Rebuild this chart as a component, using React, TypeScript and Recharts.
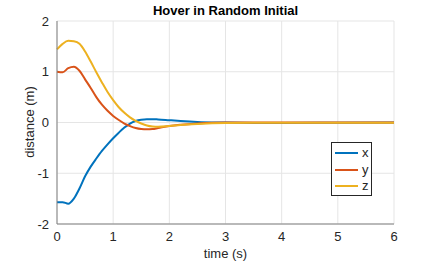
import { LineChart, Line, XAxis, YAxis, CartesianGrid } from 'recharts';

// sample times (s)
const TIME = [0, 0.1, 0.2, 0.3, 0.4, 0.5, 0.6, 0.7, 0.8, 0.9, 1.0, 1.1, 1.2, 1.3, 1.4, 1.5, 1.6, 1.7, 1.8, 2.0, 2.2, 2.5, 3.0, 3.5, 4.0, 5.0, 6.0];
const X_POS = [-1.57, -1.57, -1.6, -1.5, -1.3, -1.06, -0.87, -0.71, -0.56, -0.43, -0.31, -0.2, -0.1, -0.02, 0.03, 0.055, 0.065, 0.065, 0.06, 0.045, 0.03, 0.012, 0.0, -0.008, -0.01, -0.005, 0.0];
const Y_POS = [1.0, 0.99, 1.07, 1.1, 1.02, 0.85, 0.68, 0.5, 0.35, 0.23, 0.13, 0.05, -0.02, -0.07, -0.11, -0.13, -0.135, -0.13, -0.11, -0.07, -0.045, -0.02, 0.0, 0.0, 0.0, 0.0, 0.0];
const Z_POS = [1.44, 1.55, 1.61, 1.6, 1.55, 1.4, 1.2, 0.99, 0.79, 0.6, 0.44, 0.3, 0.19, 0.1, 0.03, -0.02, -0.06, -0.08, -0.085, -0.07, -0.05, -0.03, -0.01, -0.005, -0.005, -0.005, -0.005];

const X_TICKS = [0, 1, 2, 3, 4, 5, 6];
const Y_TICKS = [-2, -1, 0, 1, 2];

const SERIES = [
  { key: 'x', color: '#0072BD' },
  { key: 'y', color: '#D95319' },
  { key: 'z', color: '#EDB120' },
];

const chartData = TIME.map((t, i) => ({ t, x: X_POS[i], y: Y_POS[i], z: Z_POS[i] }));

const FONT = 'Helvetica, "Liberation Sans", Arial, sans-serif';

function MatlabLegend() {
  return (
    <div
      style={{
        position: 'absolute', left: 331, top: 142, width: 41, height: 54,
        border: '1px solid #262626', background: '#fff',
        padding: '2px 0 0 3px', boxSizing: 'border-box',
        fontFamily: FONT, fontSize: 13, lineHeight: '16px', color: '#262626',
      }}
    >
      {SERIES.map(s => (
        <div key={s.key} style={{ display: 'flex', alignItems: 'center', height: 16.5 }}>
          <span style={{ display: 'inline-block', width: 23, height: 2, background: s.color, marginRight: 4 }} />
          <span>{s.key}</span>
        </div>
      ))}
    </div>
  );
}

export default function App() {
  const tick = { fill: '#262626', fontSize: 13, fontFamily: FONT };
  return (
    <div style={{ position: 'absolute', left: 0, top: 0, width: 436, height: 262, background: '#fff' }}>
      <div
        style={{
          position: 'absolute', left: 57, width: 337, top: 3, textAlign: 'center',
          fontFamily: FONT, fontWeight: 'bold', fontSize: 13, color: '#000',
        }}
      >
        Hover in Random Initial
      </div>
      <div
        style={{
          position: 'absolute', left: 57, width: 337, top: 246, textAlign: 'center',
          fontFamily: FONT, fontSize: 13, lineHeight: '15px', color: '#262626',
        }}
      >
        time (s)
      </div>
      <div
        style={{
          position: 'absolute', left: 29, top: 122, transform: 'translate(-50%, -50%) rotate(-90deg)',
          fontFamily: FONT, fontSize: 13, color: '#262626', whiteSpace: 'nowrap',
        }}
      >
        distance (m)
      </div>
      <LineChart
        width={436}
        height={262}
        data={chartData}
        margin={{ top: 21, right: 42, left: 27, bottom: 24 }}
      >
        <CartesianGrid stroke="#e5e5e5" strokeWidth={1} />
        <XAxis
          dataKey="t"
          type="number"
          domain={[0, 6]}
          ticks={X_TICKS}
          tick={tick}
          tickLine={false}
          axisLine={{ stroke: '#808080' }}
          height={14}
          tickMargin={2}
        />
        <YAxis
          type="number"
          domain={[-2, 2]}
          ticks={Y_TICKS}
          tick={tick}
          tickLine={false}
          axisLine={{ stroke: '#808080' }}
          width={30}
          tickMargin={2}
        />
        {SERIES.map(s => (
          <Line
            key={s.key}
            type="monotone"
            dataKey={s.key}
            stroke={s.color}
            strokeWidth={2}
            dot={false}
            isAnimationActive={false}
          />
        ))}
      </LineChart>
      <MatlabLegend />
    </div>
  );
}
